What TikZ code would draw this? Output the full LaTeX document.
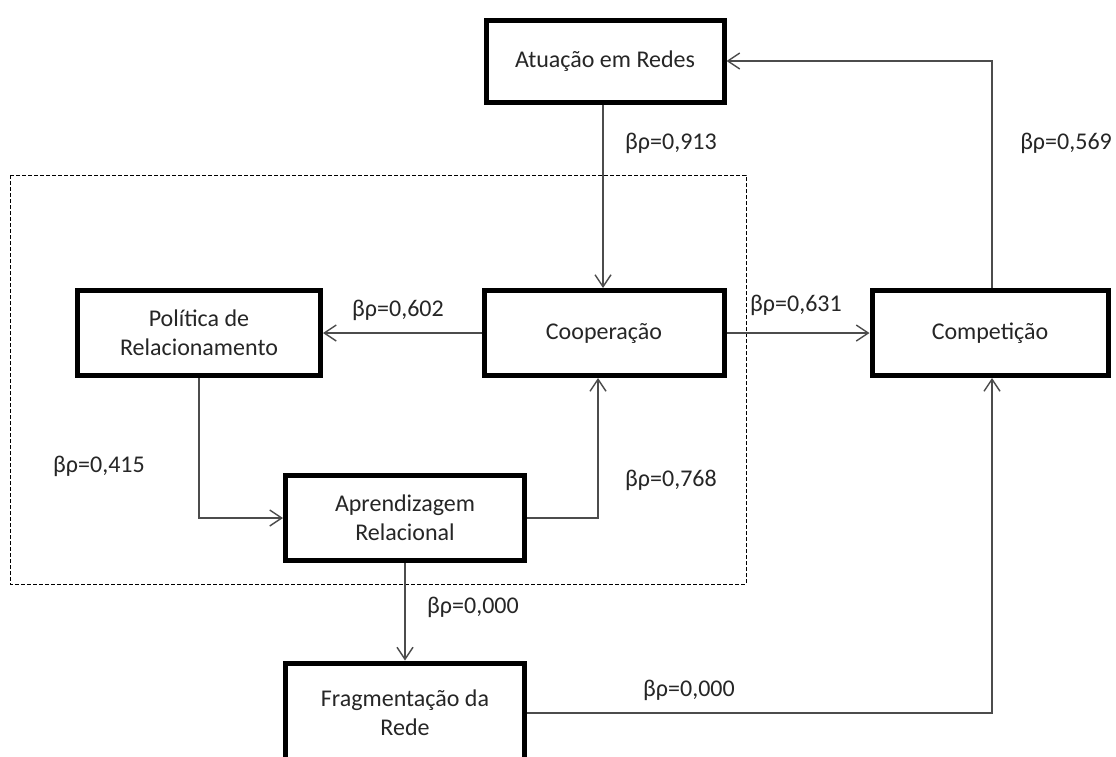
\documentclass[tikz,border=0pt]{standalone}
\usepackage{fontspec}
\setmainfont{Carlito}
\usetikzlibrary{arrows.meta}

\tikzset{
  box/.style={draw=black, line width=5pt, fill=white, rectangle, align=center,
    inner sep=0pt, text=black!85, font=\fontsize{24}{29}\selectfont},
  conn/.style={draw=black!70, line width=1.4pt,
    -{Straight Barb[length=12pt,width=16pt,line width=1.4pt]}},
  coef/.style={inner sep=0pt, text=black!85, font=\fontsize{24}{29}\selectfont},
  frame/.style={draw=black, line width=1pt, dash pattern=on 4pt off 2pt}
}

\begin{document}
\begin{tikzpicture}[x=1pt, y=-1pt]
  \useasboundingbox[fill=white] (0,0) rectangle (1116,756);

  % dashed frame around the inner model
  \draw[frame] (10,175) rectangle (746,584);

  % constructs
  \node[box, minimum width=238pt, minimum height=82pt] (atu)  at (605,61)  {Atuação em Redes};
  \node[box, minimum width=243pt, minimum height=85pt] (pol)  at (199,333) {Política de\\Relacionamento};
  \node[box, minimum width=240pt, minimum height=85pt] (coop) at (604,333) {Cooperação};
  \node[box, minimum width=236pt, minimum height=85pt] (comp) at (990,333) {Competição};
  \node[box, minimum width=239pt, minimum height=85pt] (apr)  at (405,518) {Aprendizagem\\Relacional};
  \node[box, minimum width=239pt, minimum height=100pt] (frag) at (405,713) {Fragmentação da\\Rede};

  % paths between constructs
  \draw[conn] (atu.south -| 603,0) -- (coop.north -| 603,0);
  \draw[conn] (comp.north -| 992,0) |- (atu.east);
  \draw[conn] (coop.west) -- (pol.east);
  \draw[conn] (coop.east) -- (comp.west);
  \draw[conn] (pol.south) |- (apr.west);
  \draw[conn] (apr.east) -| (coop.south -| 598,0);
  \draw[conn] (apr.south) -- (frag.north);
  \draw[conn] (frag.east) -| (comp.south -| 992,0);

  % path coefficients
  \node[coef, anchor=west] (c1) at (625,143) {βρ=0,913};
  \node[coef, anchor=east] (c2) at (1112,143) {βρ=0,569};
  \node[coef, anchor=west] (c3) at (352,310) {βρ=0,602};
  \node[coef, anchor=west] (c4) at (750,305) {βρ=0,631};
  \node[coef, anchor=west] (c5) at (53,466)  {βρ=0,415};
  \node[coef, anchor=west] (c6) at (625,480) {βρ=0,768};
  \node[coef, anchor=west] (c7) at (427,607) {βρ=0,000};
  \node[coef, anchor=west] (c8) at (643,690) {βρ=0,000};
\end{tikzpicture}
\end{document}
